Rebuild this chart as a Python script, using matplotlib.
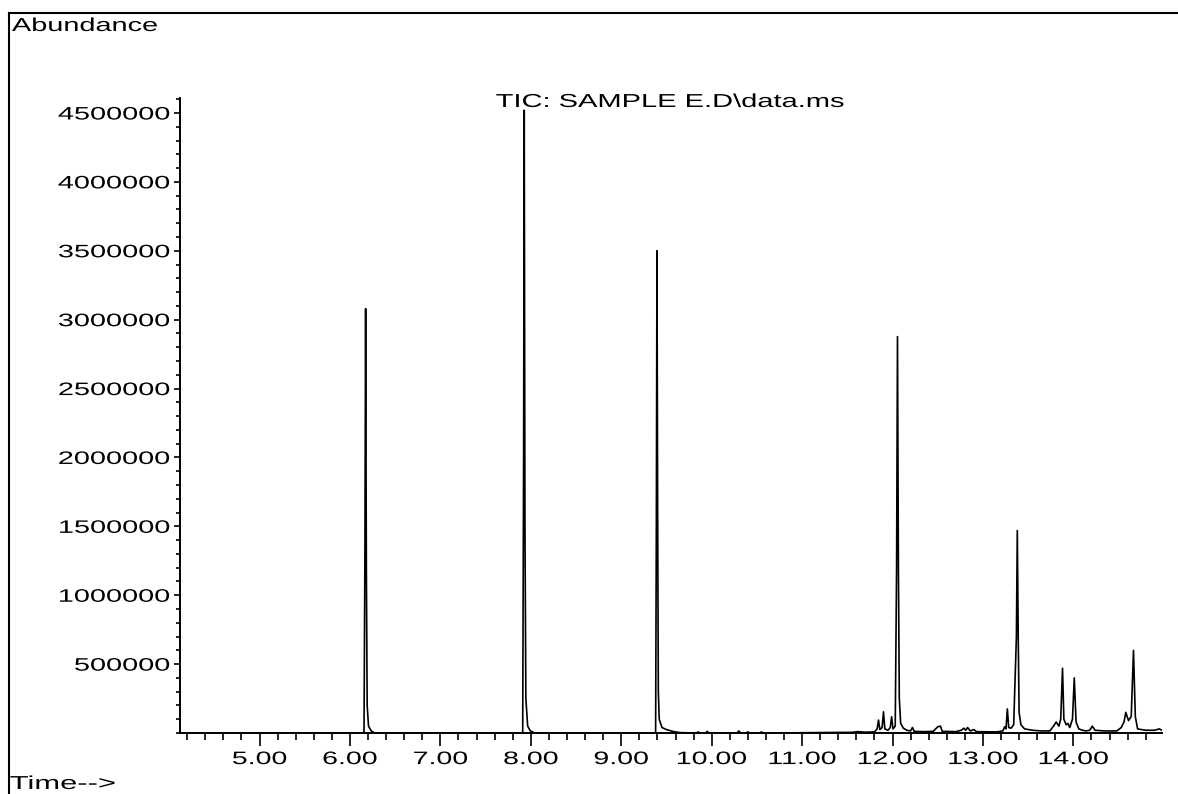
import matplotlib
matplotlib.use('Agg')
import matplotlib.pyplot as plt
from matplotlib.lines import Line2D
from matplotlib.ticker import MultipleLocator, FixedLocator, FuncFormatter
from matplotlib.patheffects import AbstractPathEffect
from matplotlib.transforms import Affine2D

plt.rcParams['font.family'] = ['Liberation Sans', 'DejaVu Sans']

# TIC trace (time in min, abundance)
time = [4.12, 6.155, 6.165, 6.173, 6.181, 6.19, 6.205, 6.235, 6.275,
        7.91, 7.92, 7.927, 7.935, 7.945, 7.965, 7.995, 8.045,
        9.380, 9.388, 9.395, 9.402, 9.410, 9.42, 9.45, 9.50, 9.58, 9.65,
        9.83, 9.85, 9.87, 9.93, 9.95, 9.97, 10.28, 10.30, 10.32, 10.38, 10.40, 10.42,
        10.53, 10.55, 10.57,
        11.55, 11.62, 11.70, 11.80, 11.83, 11.845, 11.86, 11.885, 11.90, 11.915,
        11.95, 11.975, 11.99, 12.005, 12.03, 12.045, 12.055, 12.065, 12.075, 12.09,
        12.12, 12.16, 12.20, 12.22, 12.24, 12.35, 12.45, 12.50, 12.53, 12.55,
        12.70, 12.76, 12.79, 12.81, 12.83, 12.86, 12.90, 12.93, 13.15,
        13.22, 13.24, 13.255, 13.27, 13.285, 13.31, 13.34, 13.37, 13.38, 13.39,
        13.40, 13.42, 13.46, 13.55, 13.65, 13.74, 13.78, 13.81, 13.84, 13.86,
        13.88, 13.895, 13.92, 13.94, 13.96, 13.99, 14.01, 14.03, 14.06, 14.10,
        14.14, 14.18, 14.21, 14.24, 14.35, 14.48, 14.53, 14.56, 14.58, 14.61,
        14.64, 14.665, 14.685, 14.71, 14.80, 14.90, 14.95, 14.98]
abundance = [0, 0, 1300000, 3080000, 1200000, 200000, 50000, 15000, 0,
             0, 2000000, 4520000, 1500000, 250000, 50000, 15000, 0,
             0, 1500000, 3500000, 1700000, 300000, 100000, 40000, 25000, 10000, 3000,
             0, 8000, 0, 0, 12000, 0, 0, 15000, 0, 0, 8000, 0,
             0, 8000, 0,
             5000, 10000, 6000, 8000, 30000, 94000, 25000, 40000, 154000, 30000,
             20000, 40000, 118000, 30000, 50000, 1200000, 2877000, 1200000, 250000, 70000,
             35000, 20000, 15000, 40000, 12000, 10000, 12000, 45000, 50000, 12000,
             10000, 20000, 35000, 20000, 40000, 15000, 25000, 10000, 8000,
             15000, 45000, 30000, 175000, 40000, 35000, 60000, 700000, 1470000, 700000,
             150000, 60000, 30000, 20000, 15000, 15000, 50000, 80000, 50000, 100000,
             470000, 100000, 60000, 70000, 40000, 100000, 400000, 80000, 30000, 20000,
             15000, 20000, 50000, 20000, 15000, 15000, 40000, 80000, 150000, 90000,
             120000, 600000, 120000, 30000, 20000, 20000, 30000, 20000]

x_ticks = [5, 6, 7, 8, 9, 10, 11, 12, 13, 14]
y_ticks = [500000, 1000000, 1500000, 2000000, 2500000, 3000000, 3500000, 4000000, 4500000]


# the instrument printout uses a wide, stretched font: widen glyphs around an anchor
class Stretch(AbstractPathEffect):
    def __init__(self, sx, anchor='left'):
        super().__init__()
        self.sx = sx
        self.anchor = anchor

    def draw_path(self, renderer, gc, tpath, affine, rgbFace=None):
        ext = tpath.get_extents()
        x0 = {'left': ext.x0, 'center': (ext.x0 + ext.x1) / 2, 'right': ext.x1}[self.anchor]
        t = Affine2D().translate(-x0, 0).scale(self.sx, 1).translate(x0, 0) + affine
        renderer.draw_path(gc, tpath, t, rgbFace)


fig = plt.figure(figsize=(11.78, 7.94), dpi=100)
ax = fig.add_axes([0.1528, 0.0768, 0.8336, 0.7998])

ax.plot(time, abundance, color='black', lw=1.2)

ax.set_xlim(4.12, 14.98)
ax.set_ylim(0, 4609000)

for side in ['top', 'right']:
    ax.spines[side].set_visible(False)
for side in ['left', 'bottom']:
    ax.spines[side].set_linewidth(1.4)

ax.xaxis.set_major_locator(FixedLocator(x_ticks))
ax.xaxis.set_minor_locator(MultipleLocator(0.2))
ax.xaxis.set_major_formatter(FuncFormatter(lambda v, p: '%.2f' % v))
ax.yaxis.set_major_locator(FixedLocator(y_ticks))
ax.yaxis.set_minor_locator(MultipleLocator(100000))
ax.yaxis.set_major_formatter(FuncFormatter(lambda v, p: '%d' % v))

ax.tick_params(axis='x', which='major', length=9, width=1.2, pad=4, labelsize=13)
ax.tick_params(axis='x', which='minor', length=5, width=1.2)
ax.tick_params(axis='y', which='major', length=4, width=1.2, pad=3, labelsize=13)
ax.tick_params(axis='y', which='minor', length=3, width=1.2)

for lbl in ax.get_xticklabels():
    lbl.set_path_effects([Stretch(1.58, 'center')])
for lbl in ax.get_yticklabels():
    lbl.set_path_effects([Stretch(1.6, 'right')])

ax.text(0.499, 1 - 9 / 635, 'TIC: SAMPLE E.D\\data.ms', transform=ax.transAxes,
        ha='center', va='baseline', fontsize=13.5, path_effects=[Stretch(1.55, 'center')])

fig.text(12 / 1178, 1 - 31 / 794, 'Abundance', ha='left', va='baseline', fontsize=13.5,
         path_effects=[Stretch(1.54, 'left')])
fig.text(10 / 1178, 1 - 789 / 794, 'Time-->', ha='left', va='baseline', fontsize=13.5,
         path_effects=[Stretch(1.65, 'left')])

# page frame (left and top edges)
fig.add_artist(Line2D([9 / 1178, 9 / 1178], [0, 1 - 13 / 794], transform=fig.transFigure,
                      color='black', lw=1.5))
fig.add_artist(Line2D([9 / 1178, 1], [1 - 13 / 794, 1 - 13 / 794], transform=fig.transFigure,
                      color='black', lw=1.5))

fig.savefig('out.png', dpi=100)
